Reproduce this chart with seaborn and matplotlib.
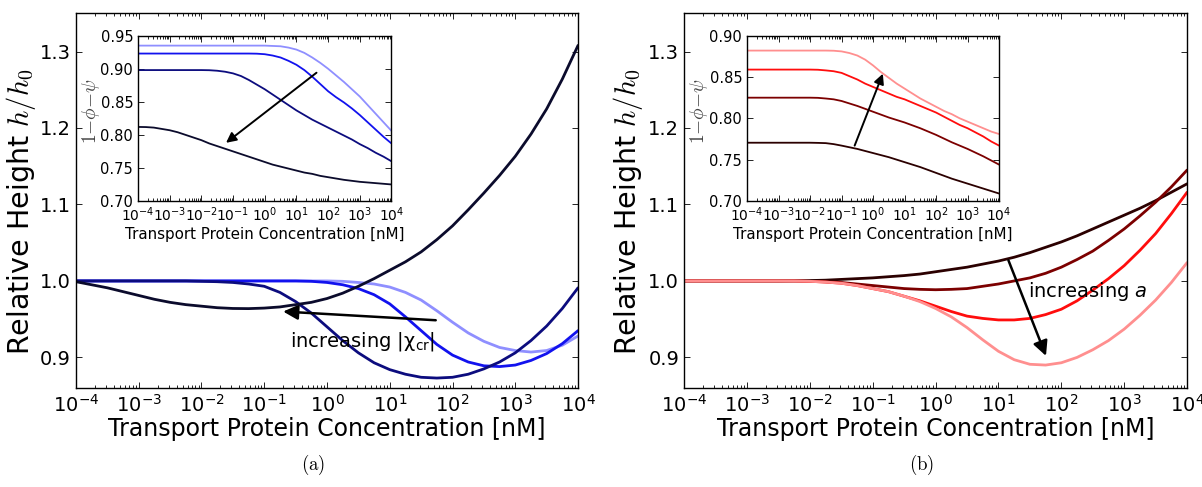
import numpy as np
import pandas as pd
import matplotlib
matplotlib.use("Agg")
import matplotlib.pyplot as plt
import seaborn as sns
from matplotlib.ticker import LogLocator, FixedLocator, FormatStrFormatter, NullFormatter

# log10 of transport protein concentration [nM], quarter-decade steps
log_conc = [-4.0, -3.75, -3.5, -3.25, -3.0, -2.75, -2.5, -2.25, -2.0, -1.75, -1.5,
            -1.25, -1.0, -0.75, -0.5, -0.25, 0.0, 0.25, 0.5, 0.75, 1.0, 1.25,
            1.5, 1.75, 2.0, 2.25, 2.5, 2.75, 3.0, 3.25, 3.5, 3.75, 4.0]

# ---- panel (a): varying |chi_cr| -- relative height h/h0 ----
height_a_light = [1.000, 1.000, 1.000, 1.000, 1.000, 1.000, 1.000, 1.000, 1.000, 1.000, 1.000,
                  1.000, 1.000, 1.000, 1.000, 1.000, 1.000, 0.9995, 0.998, 0.996, 0.992, 0.985,
                  0.975, 0.961, 0.946, 0.932, 0.921, 0.913, 0.909, 0.907, 0.909, 0.916, 0.928]
height_a_blue = [1.000, 1.000, 1.000, 1.000, 1.000, 1.000, 1.000, 1.000, 1.000, 1.000, 1.000,
                 1.000, 1.000, 1.000, 1.000, 0.9995, 0.998, 0.995, 0.990, 0.982, 0.970, 0.953,
                 0.935, 0.917, 0.903, 0.894, 0.889, 0.888, 0.890, 0.896, 0.905, 0.918, 0.935]
height_a_navy = [1.000, 1.000, 1.000, 1.000, 1.000, 1.000, 1.000, 1.000, 0.9995, 0.999, 0.998,
                 0.996, 0.993, 0.985, 0.973, 0.958, 0.940, 0.922, 0.906, 0.893, 0.884, 0.878,
                 0.874, 0.873, 0.874, 0.878, 0.885, 0.894, 0.906, 0.922, 0.941, 0.964, 0.991]
height_a_dark = [0.999, 0.995, 0.991, 0.986, 0.981, 0.976, 0.972, 0.969, 0.967, 0.965, 0.964,
                 0.9638, 0.9645, 0.966, 0.969, 0.972, 0.977, 0.984, 0.993, 1.003, 1.014, 1.025,
                 1.038, 1.054, 1.072, 1.093, 1.115, 1.138, 1.163, 1.192, 1.225, 1.264, 1.308]

# ---- panel (a) inset: 1 - phi - psi ----
vol_a_light = [0.935, 0.935, 0.935, 0.935, 0.935, 0.935, 0.935, 0.935, 0.935, 0.935, 0.935,
               0.935, 0.935, 0.935, 0.935, 0.935, 0.935, 0.9345, 0.934, 0.932, 0.929, 0.924,
               0.917, 0.909, 0.900, 0.890, 0.880, 0.869, 0.858, 0.845, 0.832, 0.819, 0.806]
vol_a_blue = [0.923, 0.923, 0.923, 0.923, 0.923, 0.923, 0.923, 0.923, 0.923, 0.923, 0.923,
              0.923, 0.923, 0.923, 0.923, 0.9228, 0.922, 0.920, 0.917, 0.912, 0.906, 0.898,
              0.888, 0.877, 0.866, 0.857, 0.849, 0.840, 0.830, 0.819, 0.808, 0.797, 0.787]
vol_a_navy = [0.898, 0.898, 0.898, 0.898, 0.898, 0.898, 0.898, 0.898, 0.898, 0.8978, 0.897,
              0.8955, 0.893, 0.889, 0.883, 0.876, 0.869, 0.861, 0.853, 0.845, 0.837, 0.830,
              0.823, 0.817, 0.811, 0.805, 0.799, 0.793, 0.786, 0.780, 0.773, 0.767, 0.760]
vol_a_dark = [0.812, 0.8118, 0.811, 0.809, 0.807, 0.804, 0.800, 0.796, 0.792, 0.787, 0.783,
              0.779, 0.775, 0.771, 0.767, 0.763, 0.759, 0.755, 0.752, 0.749, 0.746, 0.743,
              0.741, 0.738, 0.736, 0.734, 0.732, 0.7305, 0.729, 0.728, 0.727, 0.726, 0.725]

# ---- panel (b): varying a -- relative height h/h0 ----
height_b_dark = [1.000, 1.000, 1.000, 1.000, 1.000, 1.000, 1.000, 1.0002, 1.0005, 1.001, 1.002,
                 1.003, 1.004, 1.0055, 1.007, 1.009, 1.012, 1.015, 1.018, 1.022, 1.026, 1.031,
                 1.037, 1.044, 1.051, 1.059, 1.068, 1.077, 1.086, 1.095, 1.105, 1.116, 1.127]
height_b_maroon = [1.000, 1.000, 1.000, 1.000, 1.000, 1.000, 1.000, 1.000, 0.9995, 0.999, 0.998,
                   0.996, 0.994, 0.992, 0.990, 0.989, 0.9885, 0.989, 0.990, 0.993, 0.996, 1.000,
                   1.004, 1.010, 1.018, 1.028, 1.039, 1.053, 1.068, 1.085, 1.103, 1.123, 1.145]
height_b_red = [1.000, 1.000, 1.000, 1.000, 1.000, 1.000, 1.000, 1.000, 0.9995, 0.9985, 0.997,
                0.994, 0.990, 0.986, 0.980, 0.974, 0.967, 0.960, 0.954, 0.951, 0.949, 0.949,
                0.951, 0.956, 0.963, 0.974, 0.988, 1.003, 1.020, 1.040, 1.062, 1.088, 1.116]
height_b_pink = [1.000, 1.000, 1.000, 1.000, 1.000, 1.000, 1.000, 1.000, 0.9995, 0.9985, 0.997,
                 0.994, 0.990, 0.986, 0.980, 0.973, 0.964, 0.953, 0.939, 0.923, 0.908, 0.897,
                 0.891, 0.890, 0.893, 0.900, 0.910, 0.922, 0.937, 0.955, 0.975, 0.998, 1.024]

# ---- panel (b) inset: 1 - phi - psi ----
vol_b_dark = [0.7705, 0.7705, 0.7705, 0.7705, 0.7705, 0.7705, 0.7705, 0.7705, 0.7705, 0.7703, 0.770,
              0.7688, 0.767, 0.765, 0.763, 0.7605, 0.758, 0.7555, 0.753, 0.750, 0.747, 0.744,
              0.741, 0.7375, 0.734, 0.7305, 0.727, 0.724, 0.721, 0.718, 0.715, 0.712, 0.709]
vol_b_maroon = [0.825, 0.825, 0.825, 0.825, 0.825, 0.825, 0.825, 0.825, 0.825, 0.8248, 0.824,
                0.823, 0.821, 0.818, 0.815, 0.8115, 0.808, 0.8045, 0.801, 0.798, 0.795, 0.7915,
                0.788, 0.784, 0.780, 0.7755, 0.771, 0.767, 0.763, 0.7585, 0.754, 0.749, 0.744]
vol_b_red = [0.859, 0.859, 0.859, 0.859, 0.859, 0.859, 0.859, 0.859, 0.859, 0.8588, 0.858,
             0.857, 0.855, 0.851, 0.847, 0.842, 0.838, 0.834, 0.830, 0.826, 0.823, 0.819,
             0.815, 0.811, 0.807, 0.802, 0.797, 0.792, 0.788, 0.783, 0.778, 0.772, 0.767]
vol_b_pink = [0.882, 0.882, 0.882, 0.882, 0.882, 0.882, 0.882, 0.882, 0.882, 0.882, 0.882,
              0.8818, 0.881, 0.879, 0.876, 0.871, 0.864, 0.856, 0.849, 0.842, 0.836, 0.830,
              0.824, 0.819, 0.814, 0.809, 0.805, 0.800, 0.796, 0.792, 0.788, 0.784, 0.781]

colors_a = ["#8f8fff", "#1212ee", "#0c0c7e", "#0b0b2c"]
colors_b = ["#2b0000", "#7c0000", "#ff0d0d", "#ff8f8f"]

decade_exps = [-4, -3, -2, -1, 0, 1, 2, 3, 4]
decade_labels = [r"$10^{%d}$" % e for e in decade_exps]
main_yticks = [0.9, 1.0, 1.1, 1.2, 1.3]
inset_a_yticks = [0.70, 0.75, 0.80, 0.85, 0.90, 0.95]
inset_b_yticks = [0.70, 0.75, 0.80, 0.85, 0.90]

sns.set_theme(style="ticks")
plt.rcParams.update({
    "font.family": ["DejaVu Sans"],
    "mathtext.fontset": "dejavusans",
    "axes.unicode_minus": False,
    "text.color": "black",
    "axes.labelcolor": "black",
    "xtick.direction": "in",
    "ytick.direction": "in",
    "xtick.top": True,
    "ytick.right": True,
    "xtick.major.size": 4,
    "ytick.major.size": 4,
    "xtick.minor.size": 2,
    "ytick.minor.size": 2,
    "xtick.major.width": 0.6,
    "ytick.major.width": 0.6,
    "xtick.minor.width": 0.6,
    "axes.linewidth": 1.0,
    "axes.edgecolor": "black",
    "xtick.color": "black",
    "ytick.color": "black",
    "xtick.labelcolor": "black",
    "ytick.labelcolor": "black",
})

conc = 10.0 ** np.array(log_conc)


def style_log_axis(ax, xsize, ysize, yticks, yfmt, xpad):
    ax.set_xscale("log")
    ax.set_xlim(1e-4, 1e4)
    ax.xaxis.set_major_locator(FixedLocator([10.0 ** e for e in decade_exps]))
    ax.set_xticklabels(decade_labels)
    ax.xaxis.set_minor_locator(LogLocator(base=10, subs=np.arange(2, 10), numticks=100))
    ax.xaxis.set_minor_formatter(NullFormatter())
    ax.set_yticks(yticks)
    ax.yaxis.set_major_formatter(FormatStrFormatter(yfmt))
    ax.tick_params(axis="both", which="both", top=True, right=True,
                   direction="in", colors="black")
    ax.tick_params(axis="x", labelsize=xsize)
    ax.tick_params(axis="y", labelsize=ysize)
    ax.tick_params(axis="x", which="major", pad=xpad)
    for s in ax.spines.values():
        s.set_visible(True)
        s.set_color("black")


fig = plt.figure(figsize=(12.02, 4.87), dpi=100)

panels = [
    dict(rect=[0.0632, 0.2033, 0.4177, 0.7694],
         inset=[0.1148, 0.5873, 0.2109, 0.3394],
         heights=[height_a_light, height_a_blue, height_a_navy, height_a_dark],
         vols=[vol_a_light, vol_a_blue, vol_a_navy, vol_a_dark],
         colors=colors_a, inset_ylim=(0.70, 0.95), inset_yticks=inset_a_yticks,
         caption="(a)", ylab_x=-0.075, ins_ylab_x=-0.140),
    dict(rect=[0.5691, 0.2033, 0.4185, 0.7694],
         inset=[0.6215, 0.5873, 0.2097, 0.3394],
         heights=[height_b_dark, height_b_maroon, height_b_red, height_b_pink],
         vols=[vol_b_dark, vol_b_maroon, vol_b_red, vol_b_pink],
         colors=colors_b, inset_ylim=(0.70, 0.90), inset_yticks=inset_b_yticks,
         caption="(b)", ylab_x=-0.078, ins_ylab_x=-0.145),
]

main_axes = []
inset_axes = []
for p in panels:
    ax = fig.add_axes(p["rect"])
    for h, c in zip(p["heights"], p["colors"]):
        sns.lineplot(x=conc, y=h, ax=ax, color=c, lw=2.0)
    style_log_axis(ax, 14, 14, main_yticks, "%.1f", 4)
    ax.set_ylim(0.86, 1.35)
    ax.set_xlabel("Transport Protein Concentration [nM]", fontsize=17, labelpad=1)
    ax.set_ylabel(r"Relative Height $h/h_0$", fontsize=20.5, math_fontfamily="cm")
    ax.yaxis.set_label_coords(p["ylab_x"], 0.47)
    main_axes.append(ax)

    ins = fig.add_axes(p["inset"])
    for v, c in zip(p["vols"], p["colors"]):
        sns.lineplot(x=conc, y=v, ax=ins, color=c, lw=1.3)
    style_log_axis(ins, 10, 10.5, p["inset_yticks"], "%.2f", 3)
    ins.set_ylim(*p["inset_ylim"])
    ins.set_xlabel("Transport Protein Concentration [nM]", fontsize=10.9, labelpad=2)
    ins.set_ylabel(r"$1{-}\phi{-}\psi$", fontsize=14, math_fontfamily="cm",
                   color="#444444")
    ins.yaxis.set_label_coords(p["ins_ylab_x"], 0.542)
    inset_axes.append(ins)

    left, bottom, width, _ = p["rect"]
    fig.text(left + width / 2 - 0.012, 0.045, r"$\mathrm{%s}$" % p["caption"],
             ha="center", va="center", fontsize=13.5, math_fontfamily="cm")

ax_a, ax_b = main_axes
ins_a, ins_b = inset_axes

big_arrow = dict(arrowstyle="-|>", color="black", lw=1.8, mutation_scale=22,
                 shrinkA=0, shrinkB=0)
small_arrow = dict(arrowstyle="-|>", color="black", lw=1.4, mutation_scale=15,
                   shrinkA=0, shrinkB=0)

ax_a.annotate("", xy=(0.2, 0.960), xytext=(54, 0.9486), arrowprops=big_arrow)
ax_a.text(0.26, 0.921, r"increasing |$\mathregular{\chi_{cr}}$|", fontsize=14,
          va="center", ha="left")
ins_a.annotate("", xy=(0.06, 0.788), xytext=(43, 0.894), arrowprops=small_arrow)

ax_b.annotate("", xy=(57, 0.902), xytext=(14.4, 1.027), arrowprops=big_arrow)
ax_b.text(30, 0.986, r"increasing $a$", fontsize=14, va="center", ha="left")
ins_b.annotate("", xy=(2.04, 0.854), xytext=(0.26, 0.767), arrowprops=small_arrow)

fig.savefig("out.png", dpi=100)
